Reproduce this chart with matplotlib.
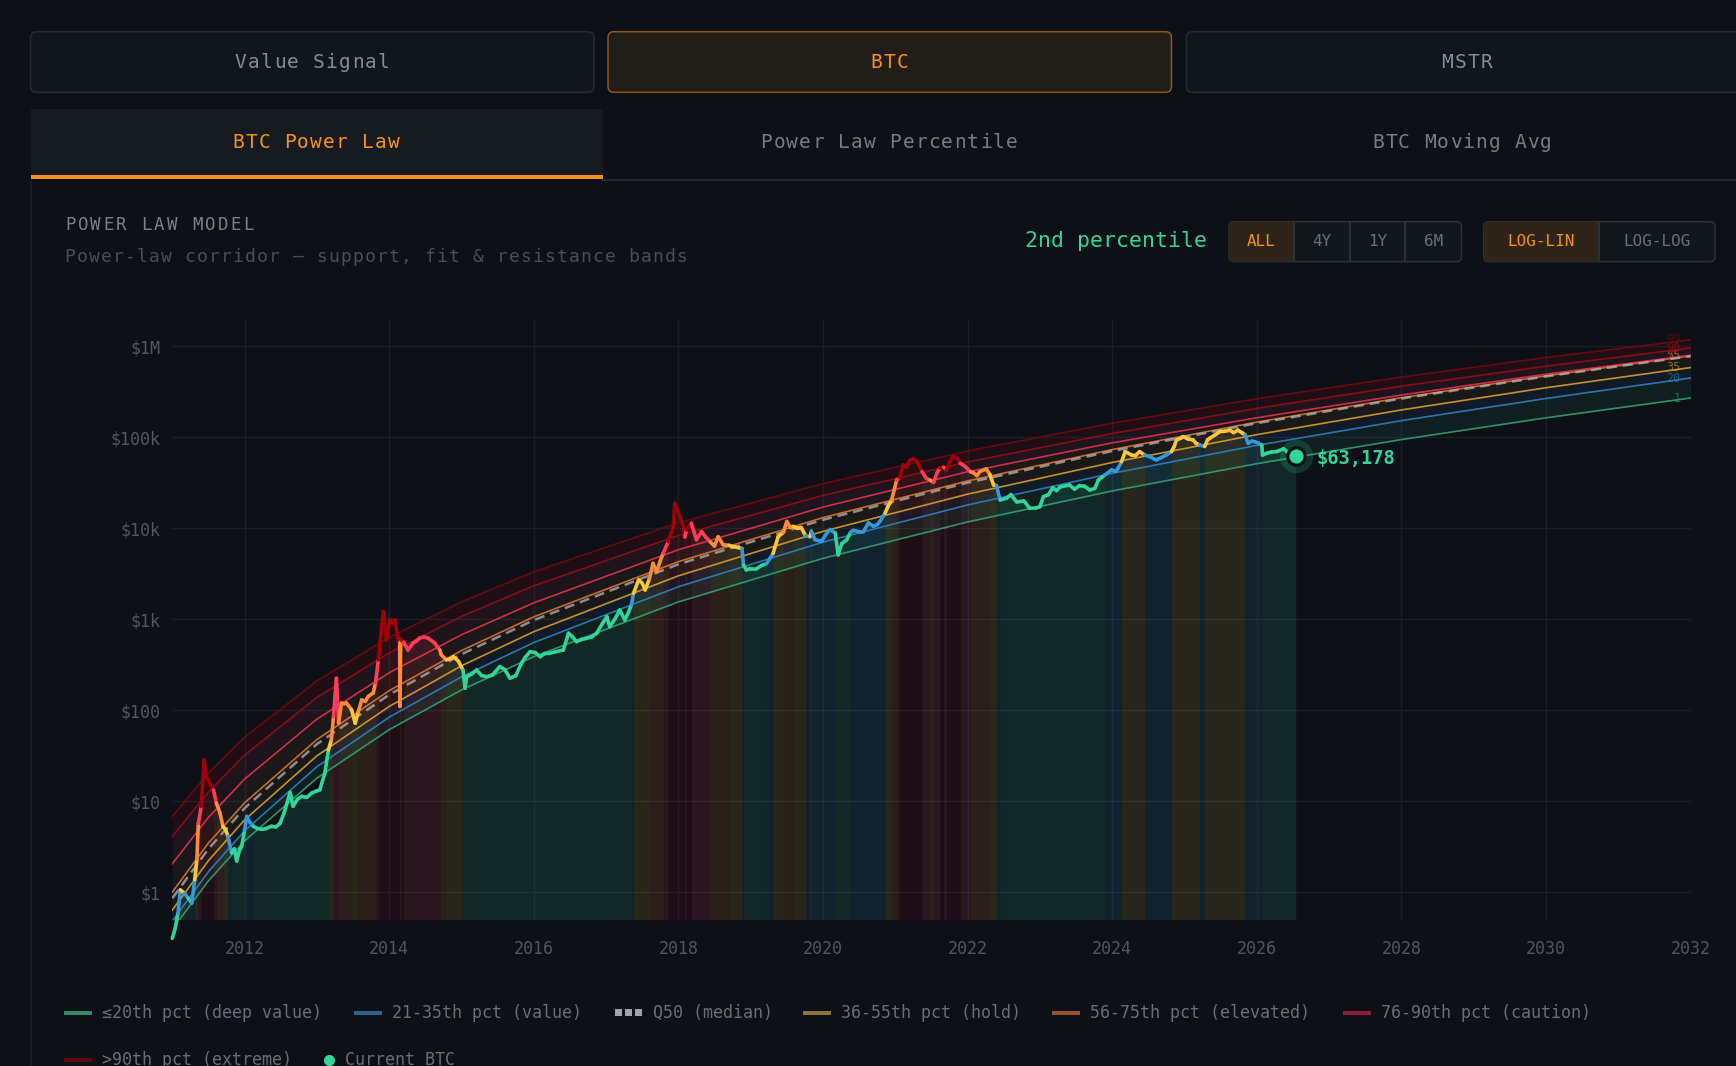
import matplotlib
matplotlib.use("Agg")
import matplotlib.pyplot as plt
import numpy as np
from matplotlib.collections import LineCollection
from matplotlib.patches import FancyBboxPatch, Rectangle

plt.rcParams['font.family'] = ['DejaVu Sans Mono', 'DejaVu Sans']

BG = '#0d1117'

# percentile corridor, USD at these dates
band_years = [2011.0, 2011.5, 2012, 2013, 2014, 2015, 2016, 2018, 2020, 2022, 2024, 2026, 2028, 2030, 2032]
band_p99 = [6.79, 20.4, 50.5, 210, 631, 1556, 3327, 11510, 30970, 70790, 143200, 266100, 460300, 755100, 1183000]
band_p90 = [4.09, 12.6, 32.0, 138, 426, 1074, 2333, 8356, 23010, 53580, 110400, 208400, 365600, 606700, 961600]
band_p75 = [2.05, 6.64, 17.5, 79.8, 258, 676, 1517, 5821, 17140, 41880, 87100, 164400, 292400, 495500, 799800]
band_p55 = [1.00, 3.47, 9.59, 47.6, 164, 453, 1064, 4305, 13120, 33190, 73450, 147200, 272900, 475300, 788900]
band_p50 = [0.855, 2.99, 8.38, 42.4, 148, 413, 979, 4027, 12420, 31770, 70790, 143200, 267300, 468800, 781600]
band_p35 = [0.634, 2.22, 6.22, 31.5, 110, 308, 731, 3006, 9268, 23770, 52970, 107200, 200400, 351600, 586100]
band_p20 = [0.481, 1.68, 4.72, 23.9, 83.8, 233, 555, 2280, 7047, 18070, 40270, 81660, 152800, 267900, 449800]
band_p1 = [0.391, 1.33, 3.66, 17.9, 61.1, 167, 388, 1552, 4677, 11750, 25760, 51400, 94620, 164100, 271000]

# BTC price path (decimal year, USD)
price_t = [
    2011.00, 2011.04, 2011.08, 2011.11, 2011.17, 2011.22, 2011.27, 2011.31, 2011.34, 2011.36,
    2011.40, 2011.44, 2011.47, 2011.50, 2011.53, 2011.57, 2011.61, 2011.66, 2011.70, 2011.74,
    2011.77, 2011.82, 2011.86, 2011.89, 2011.93, 2011.96, 2012.00, 2012.03, 2012.07, 2012.12,
    2012.18, 2012.24, 2012.30, 2012.37, 2012.43, 2012.49, 2012.55, 2012.60, 2012.63, 2012.67,
    2012.73, 2012.79, 2012.86, 2012.93, 2013.00, 2013.04, 2013.11, 2013.16, 2013.20, 2013.23,
    2013.25, 2013.27, 2013.30, 2013.34, 2013.38, 2013.41, 2013.48, 2013.53, 2013.57, 2013.62,
    2013.67, 2013.71, 2013.78, 2013.81, 2013.85, 2013.89, 2013.92, 2013.96, 2014.01, 2014.05,
    2014.08, 2014.12, 2014.145, 2014.15, 2014.16, 2014.20, 2014.26, 2014.33, 2014.38, 2014.42,
    2014.48, 2014.54, 2014.63, 2014.70, 2014.72, 2014.79, 2014.86, 2014.89, 2014.96, 2015.02,
    2015.05, 2015.07, 2015.14, 2015.21, 2015.28, 2015.35, 2015.43, 2015.53, 2015.60, 2015.67,
    2015.75, 2015.83, 2015.88, 2015.95, 2016.02, 2016.09, 2016.15, 2016.22, 2016.30, 2016.41,
    2016.48, 2016.53, 2016.59, 2016.66, 2016.73, 2016.80, 2016.87, 2016.95, 2017.01, 2017.05,
    2017.12, 2017.19, 2017.26, 2017.31, 2017.35, 2017.38, 2017.45, 2017.50, 2017.54, 2017.60,
    2017.65, 2017.70, 2017.75, 2017.79, 2017.86, 2017.93, 2017.95, 2017.99, 2018.02, 2018.06,
    2018.09, 2018.11, 2018.18, 2018.25, 2018.32, 2018.38, 2018.44, 2018.50, 2018.55, 2018.62,
    2018.70, 2018.76, 2018.88, 2018.90, 2018.94, 2018.99, 2019.08, 2019.15, 2019.22, 2019.31,
    2019.38, 2019.45, 2019.50, 2019.55, 2019.59, 2019.65, 2019.70, 2019.76, 2019.82, 2019.84,
    2019.89, 2019.95, 2019.98, 2020.05, 2020.10, 2020.17, 2020.21, 2020.26, 2020.33, 2020.38,
    2020.42, 2020.50, 2020.56, 2020.63, 2020.70, 2020.75, 2020.79, 2020.86, 2020.90, 2020.95,
    2021.02, 2021.06, 2021.11, 2021.15, 2021.20, 2021.25, 2021.30, 2021.37, 2021.43, 2021.48,
    2021.53, 2021.58, 2021.62, 2021.67, 2021.71, 2021.76, 2021.80, 2021.85, 2021.90, 2021.95,
    2021.99, 2022.04, 2022.08, 2022.13, 2022.17, 2022.26, 2022.31, 2022.36, 2022.40, 2022.45,
    2022.54, 2022.60, 2022.68, 2022.78, 2022.86, 2022.95, 2023.00, 2023.05, 2023.12, 2023.18,
    2023.23, 2023.28, 2023.41, 2023.48, 2023.55, 2023.62, 2023.69, 2023.76, 2023.81, 2023.90,
    2023.99, 2024.05, 2024.08, 2024.13, 2024.18, 2024.27, 2024.32, 2024.38, 2024.45, 2024.52,
    2024.58, 2024.61, 2024.68, 2024.75, 2024.82, 2024.86, 2024.89, 2024.95, 2024.98, 2025.05,
    2025.12, 2025.16, 2025.21, 2025.28, 2025.32, 2025.35, 2025.42, 2025.49, 2025.56, 2025.63,
    2025.68, 2025.74, 2025.80, 2025.84, 2025.88, 2025.93, 2025.97, 2026.02, 2026.07, 2026.08,
    2026.14, 2026.20, 2026.28, 2026.37, 2026.43, 2026.49, 2026.54,
]
price_usd = [
    0.31, 0.40, 0.59, 1.06, 0.97, 0.86, 0.76, 1.37, 2.27, 5.7,
    8.75, 28.5, 18.5, 17.2, 15.0, 13.3, 9.5, 7.4, 5.3, 4.8,
    4.1, 2.7, 3.0, 2.2, 2.9, 3.2, 4.8, 6.8, 5.9, 5.3,
    5.0, 4.9, 5.0, 5.3, 5.2, 5.7, 7.6, 10.4, 12.5, 8.8,
    10.5, 11.3, 11.0, 12.3, 13.0, 13.3, 20.4, 36.8, 47, 85,
    142, 225, 72, 120, 118, 120, 101, 72, 95, 130,
    125, 142, 155, 199, 358, 766, 1220, 595, 987, 900,
    987, 620, 547, 110, 600, 560, 460, 547, 580, 620,
    640, 620, 547, 460, 408, 358, 372, 388, 344, 277,
    175, 234, 250, 277, 240, 234, 245, 302, 280, 225,
    240, 329, 380, 441, 430, 388, 420, 423, 440, 460,
    703, 650, 568, 600, 618, 640, 703, 900, 1070, 830,
    1000, 1267, 984, 1200, 1438, 1933, 2710, 2500, 2103, 2800,
    4130, 3344, 4400, 5321, 7148, 10400, 18900, 15500, 13400, 11000,
    8000, 9600, 11400, 7500, 9200, 8000, 7100, 6400, 8100, 6600,
    6500, 6300, 6000, 3960, 3500, 3600, 3600, 3900, 4100, 5300,
    8100, 9000, 11900, 10200, 10500, 10000, 10200, 8300, 8100, 9300,
    7500, 7300, 7200, 8800, 9700, 8900, 5100, 6800, 7500, 9000,
    9500, 9200, 9200, 11500, 10500, 11000, 12000, 14700, 17500, 20500,
    34000, 36000, 49800, 47000, 56000, 58000, 55000, 42000, 35500, 34000,
    32000, 41000, 46000, 47000, 44000, 55000, 61500, 60000, 52000, 49000,
    46000, 42000, 41000, 38000, 42000, 45000, 39000, 30000, 29500, 20500,
    21500, 23500, 19500, 20000, 16600, 16800, 17300, 22300, 23500, 28000,
    26000, 28500, 30000, 27000, 29500, 29000, 26400, 27500, 34000, 38600,
    43800, 42500, 45600, 54000, 69800, 64000, 63000, 69800, 64000, 61500,
    58000, 56600, 60000, 64000, 69800, 80000, 93800, 98000, 102000, 96000,
    94000, 86000, 82600, 79500, 94000, 97700, 106000, 116000, 117000, 120000,
    113000, 120000, 112000, 107000, 86000, 91000, 90000, 87000, 82600, 64000,
    67000, 69000, 70000, 75000, 68500, 66000, 63178,
]
current_label = '$63,178'
current_pct_label = '2nd percentile'

zone_names = ['≤20th pct (deep value)', '21-35th pct (value)', '36-55th pct (hold)',
              '56-75th pct (elevated)', '76-90th pct (caution)', '>90th pct (extreme)']
zone_colors = ['#34d399', '#3498db', '#fbc63b', '#ff8a3d', '#ff3d5a', '#a0000a']
x_ticks = list(range(2012, 2033, 2))
y_ticks = [1, 10, 100, 1e3, 1e4, 1e5, 1e6]
y_tick_labels = ['$1', '$10', '$100', '$1k', '$10k', '$100k', '$1M']

# ---------------------------------------------------------------- figure
W, H = 1736, 1066
fig = plt.figure(figsize=(W / 100, H / 100), dpi=100, facecolor=BG)
ui = fig.add_axes([0, 0, 1, 1], zorder=0)
ui.set_xlim(0, W)
ui.set_ylim(H, 0)
ui.axis('off')

GRAY = '#868c95'
ORANGE = '#f7931a'


def rbox(x0, y0, x1, y1, fc, ec, r=6, lw=1.5):
    p = FancyBboxPatch((x0, y0), x1 - x0, y1 - y0, boxstyle=f"round,pad=0,rounding_size={r}",
                       fc=fc, ec=ec, lw=lw * 0.72)
    ui.add_patch(p)
    return p


def spaced(x, y, s, step, ha='left', **kw):
    # monospace text with a little letter spacing, one glyph at a time
    x0 = x - len(s) * step / 2 if ha == 'center' else x
    for i, ch in enumerate(s):
        if ch != ' ':
            ui.text(x0 + (i + 0.5) * step, y, ch, ha='center', va='center', **kw)


# top selector buttons
rbox(30.5, 31.7, 594, 92.3, '#11161d', '#252a31')
rbox(608, 31.7, 1171.5, 92.3, '#211d18', '#8c5a1e')
rbox(1186.5, 31.7, 1760, 92.3, '#11161d', '#252a31')
spaced(312, 62, 'Value Signal', 13, ha='center', color=GRAY, fontsize=14)
spaced(889, 62, 'BTC', 13, ha='center', color=ORANGE, fontsize=14)
spaced(1467, 62, 'MSTR', 13, ha='center', color=GRAY, fontsize=14)

# tabs
ui.add_patch(Rectangle((30.5, 109), 572, 67, fc='#161a21', ec='none'))
ui.plot([602, W], [180, 180], color='#22272e', lw=1.6)
ui.add_patch(Rectangle((30.5, 175), 572, 4.2, fc=ORANGE, ec='none'))
spaced(316, 142, 'BTC Power Law', 12.9, ha='center', color=ORANGE, fontsize=14)
spaced(889, 142, 'Power Law Percentile', 12.9, ha='center', color='#767c85', fontsize=14)
spaced(1462, 142, 'BTC Moving Avg', 12.9, ha='center', color='#767c85', fontsize=14)
ui.plot([30.5, 30.5], [181, H], color='#1c2128', lw=1.2)

# panel header
spaced(64, 225, 'POWER LAW MODEL', 12.7, color='#7a8089', fontsize=12.5)
spaced(64, 257, 'Power-law corridor — support, fit & resistance bands', 12.0,
       color='#474d55', fontsize=13)
ui.text(1116, 241, current_pct_label, color='#34d399', fontsize=15.5, ha='center', va='center')

# range / scale segmented controls
for x0, x1, divs, labels, active in [
        (1229, 1461.5, [1294, 1350, 1405], ['ALL', '4Y', '1Y', '6M'], 0),
        (1483.7, 1715, [1599], ['LOG-LIN', 'LOG-LOG'], 0)]:
    outer = rbox(x0, 221.7, x1, 261.7, '#12171e', '#2c3139', r=5)
    edges = [x0] + divs + [x1]
    act = Rectangle((edges[active], 221.7), edges[active + 1] - edges[active], 40,
                    fc='#2e2419', ec='none')
    ui.add_patch(act)
    act.set_clip_path(outer)
    for d in divs:
        ui.plot([d, d], [222.5, 261], color='#2c3139', lw=1.4)
    for i, lab in enumerate(labels):
        cx = (edges[i] + edges[i + 1]) / 2
        ui.text(cx, 242, lab, fontsize=11.5, ha='center', va='center',
                color=ORANGE if i == active else '#6b7078')

# ---------------------------------------------------------------- chart
ax = fig.add_axes([172.3 / W, (H - 919.5) / H, (1690.5 - 172.3) / W, (919.5 - 319) / H], zorder=2)
ax.set_facecolor('none')
ax.set_yscale('log')
ax.set_xlim(2011.0, 2032.0)
ax.set_ylim(0.5, 10 ** 6.302)
for s in ax.spines.values():
    s.set_visible(False)
ax.set_xticks(x_ticks)
ax.set_xticklabels([str(x) for x in x_ticks])
ax.set_yticks(y_ticks)
ax.set_yticklabels(y_tick_labels)
ax.yaxis.set_minor_locator(matplotlib.ticker.NullLocator())
ax.tick_params(axis='both', length=0, colors='#50565f', labelsize=12)
ax.tick_params(axis='y', pad=8.5)
ax.tick_params(axis='x', pad=15)
ax.grid(True, color='#1a1f27', lw=1.0, zorder=0)
ax.set_axisbelow(True)

t = np.array(price_t)
p = np.array(price_usd)
lp = np.log10(p)


def band_log(band, x):
    return np.interp(x, band_years, np.log10(band))


# zone of each segment of the price path
tm = (t[:-1] + t[1:]) / 2
lm = (lp[:-1] + lp[1:]) / 2
zone = np.zeros(len(tm), dtype=int)
for b in [band_p20, band_p35, band_p55, band_p75, band_p90]:
    zone += (lm > band_log(b, tm)).astype(int)

# background stripes under the price, coloured by zone
start = 0
for i in range(1, len(zone) + 1):
    if i == len(zone) or zone[i] != zone[start]:
        ax.fill_between(t[start:i + 1], 0.5, p[start:i + 1], color=zone_colors[zone[start]],
                        alpha=0.12, lw=0, zorder=1)
        start = i

# corridor fills and lines
band_stack = [band_p1, band_p20, band_p35, band_p55, band_p75, band_p90, band_p99]
fill_alpha = [0.08, 0.08, 0.05, 0.06, 0.08, 0.13]
for k in range(6):
    ax.fill_between(band_years, band_stack[k], band_stack[k + 1], color=zone_colors[k],
                    alpha=fill_alpha[k], lw=0, zorder=2)

band_lines = [(band_p1, '#33a06f', '1'), (band_p20, '#2f82b8', '20'), (band_p35, '#d6a033', '35'),
              (band_p55, '#d87535', '55'), (band_p75, '#e0334f', '75'), (band_p90, '#8c0f17', '90'),
              (band_p99, '#6b0b10', '99')]
for vals, col, lab in band_lines:
    ax.plot(band_years, vals, color=col, lw=1.2, alpha=0.9, zorder=3)
    ax.text(2031.86, vals[-1], lab, color=col, alpha=0.6, fontsize=8.5, ha='right', va='center', zorder=3)
ax.plot(band_years, band_p50, color='#b4b4b4', lw=1.8, ls=(0, (4, 2.4)), alpha=0.75, zorder=4)

# price path
segs = np.stack([np.column_stack([t[:-1], p[:-1]]), np.column_stack([t[1:], p[1:]])], axis=1)
lc = LineCollection(segs, colors=[zone_colors[z] for z in zone], linewidths=2.6,
                    capstyle='round', joinstyle='round', zorder=5, clip_on=False)
ax.add_collection(lc)

# current price marker
ax.plot(t[-1], p[-1], 'o', ms=24, color='#34d399', alpha=0.18, mew=0, zorder=6)
ax.plot(t[-1], p[-1], 'o', ms=12.5, mfc='#34d399', mec=BG, mew=2.3, zorder=7)
ax.annotate(current_label, (t[-1], p[-1]), xytext=(15, -2), textcoords='offset points',
            color='#34d399', fontsize=13.5, weight='bold', ha='left', va='center', zorder=8)

# ---------------------------------------------------------------- legend
leg_colors = ['#2e8b64', '#28648c', '#8c7832', '#965032', '#8c1e37', '#640a0f']
row1, row2 = 1012.7, 1060
legend_items = [
    (64, row1, zone_names[0], leg_colors[0]),
    (354, row1, zone_names[1], leg_colors[1]),
    (615, row1, 'Q50 (median)', None),
    (803, row1, zone_names[2], leg_colors[2]),
    (1052, row1, zone_names[3], leg_colors[3]),
    (1343, row1, zone_names[4], leg_colors[4]),
    (64, row2, zone_names[5], leg_colors[5]),
]
for x0, y0, lab, col in legend_items:
    if col is None:
        for j in range(3):
            ui.add_patch(Rectangle((x0 + j * 10, y0 - 3.5), 7, 7, fc='#a3a3a3', ec='none'))
    else:
        ui.add_patch(Rectangle((x0, y0 - 2), 28, 4.2, fc=col, ec='none'))
    ui.text(x0 + 38, y0, lab, color='#686e77', fontsize=12, ha='left', va='center')
ui.plot(329, row2, 'o', ms=7, color='#34d399')
ui.text(345, row2, 'Current BTC', color='#686e77', fontsize=12, ha='left', va='center')

fig.savefig('out.png', dpi=100, facecolor=BG)
